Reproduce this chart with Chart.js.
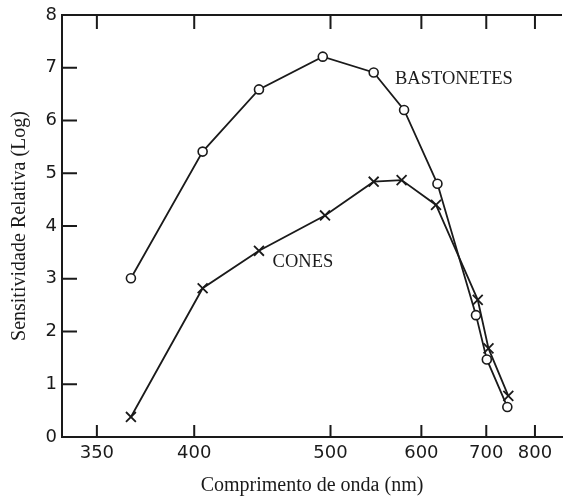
<!DOCTYPE html>
<html lang="pt">
  <head>
    <meta charset="UTF-8" />
    <title>Sensitividade relativa</title>
    <script src="https://cdn.jsdelivr.net/npm/chart.js"></script>
    <style>
      * {
        margin: 0;
        padding: 0;
      }
      body {
        background: #fff;
      }
    </style>
  </head>
  <body>
    <canvas id="chartsens" width="567" height="501"></canvas>

    <script>
      /*====  DADOS ============================ */
      var tickWavelengths = [350, 400, 500, 600, 700, 800];
      var yTicks = [0, 1, 2, 3, 4, 5, 6, 7, 8];

      // bastonetes (círculos)
      var rodWavelengths = [366, 405, 442, 493, 543, 578, 622, 682, 701, 740];
      var rodValues = [3.01, 5.41, 6.59, 7.21, 6.91, 6.2, 4.8, 2.31, 1.47, 0.57];

      // cones (cruzes)
      var coneWavelengths = [366, 405, 442, 495, 543, 575, 620, 685, 704, 742];
      var coneValues = [0.38, 2.82, 3.53, 4.2, 4.84, 4.87, 4.4, 2.6, 1.68, 0.78];

      var ink = '#1a1a1a';

      // o eixo x é recíproco (proporcional a 1/λ)
      function toAxis(w) {
        return -10000 / w;
      }
      function toPoints(ws, vs) {
        return ws.map(function (w, i) {
          return { x: toAxis(w), y: vs[i] };
        });
      }

      /*====  TICKS INTERNOS E RÓTULOS ============================ */
      var innerTicks = {
        id: 'innerTicks',
        afterDraw: function (chart) {
          var ctx = chart.ctx;
          var a = chart.chartArea;
          var x = chart.scales.x;
          var y = chart.scales.y;
          ctx.save();
          ctx.strokeStyle = ink;
          ctx.lineWidth = 2;
          ctx.beginPath();
          ctx.moveTo(a.left, a.top);
          ctx.lineTo(a.right, a.top);
          y.ticks.forEach(function (t) {
            if (t.value <= 0) return;
            var py = y.getPixelForValue(t.value);
            ctx.moveTo(a.left, py);
            ctx.lineTo(a.left + 15, py);
          });
          x.ticks.forEach(function (t) {
            var px = x.getPixelForValue(t.value);
            ctx.moveTo(px, a.bottom);
            ctx.lineTo(px, a.bottom - 12);
            ctx.moveTo(px, a.top);
            ctx.lineTo(px, a.top + 14);
          });
          ctx.stroke();

          ctx.fillStyle = ink;
          ctx.font = '18.5px "Liberation Serif"';
          ctx.textBaseline = 'middle';
          ctx.fillText('BASTONETES', x.getPixelForValue(toAxis(567)), y.getPixelForValue(6.79));
          ctx.fillText('CONES', x.getPixelForValue(toAxis(452)), y.getPixelForValue(3.32));
          ctx.restore();
        }
      };

      /*====  GRAFICO ============================ */
      var ctx = document.getElementById('chartsens').getContext('2d');
      var myChart = new Chart(ctx, {
        type: 'line',
        data: {
          datasets: [
            {
              label: 'BASTONETES',
              data: toPoints(rodWavelengths, rodValues),
              borderColor: ink,
              borderWidth: 1.8,
              pointStyle: 'circle',
              pointRadius: 4.5,
              pointBorderWidth: 1.6,
              pointBackgroundColor: '#fff',
              pointBorderColor: ink,
              tension: 0
            },
            {
              label: 'CONES',
              data: toPoints(coneWavelengths, coneValues),
              borderColor: ink,
              borderWidth: 1.8,
              pointStyle: 'crossRot',
              pointRadius: 7,
              pointBorderWidth: 1.8,
              pointBorderColor: ink,
              tension: 0
            }
          ]
        },
        options: {
          responsive: false,
          animation: false,
          layout: { autoPadding: false, padding: { top: 15, right: 5, left: 0, bottom: 0 } },
          plugins: {
            legend: { display: false },
            tooltip: { enabled: false }
          },
          scales: {
            x: {
              type: 'linear',
              min: toAxis(335),
              max: toAxis(869),
              afterBuildTicks: function (scale) {
                scale.ticks = tickWavelengths.map(function (w) {
                  return { value: toAxis(w) };
                });
              },
              afterFit: function (scale) {
                scale.height = 64;
                scale.paddingLeft = 0;
                scale.paddingRight = 0;
              },
              grid: { display: false, drawTicks: false },
              border: { display: true, color: ink, width: 2 },
              ticks: {
                padding: 6,
                color: ink,
                maxRotation: 0,
                font: { family: '"DejaVu Sans"', size: 18 },
                callback: function (v) {
                  return Math.round(-10000 / v);
                }
              },
              title: {
                display: true,
                text: 'Comprimento de onda (nm)',
                color: ink,
                font: { family: '"Liberation Serif"', size: 20 },
                padding: { top: 0, bottom: 3 }
              }
            },
            y: {
              min: 0,
              max: 8,
              afterBuildTicks: function (scale) {
                scale.ticks = yTicks.map(function (v) {
                  return { value: v };
                });
              },
              afterFit: function (scale) {
                scale.width = 62;
                scale.paddingTop = 0;
                scale.paddingBottom = 0;
              },
              grid: { display: false, drawTicks: false },
              border: { display: true, color: ink, width: 2 },
              ticks: {
                padding: 5,
                color: ink,
                font: { family: '"DejaVu Sans"', size: 18 }
              },
              title: {
                display: true,
                text: 'Sensitividade Relativa (Log)',
                color: ink,
                font: { family: '"Liberation Serif"', size: 20 },
                padding: { top: 8, bottom: 0 }
              }
            }
          }
        },
        plugins: [innerTicks]
      });
    </script>
  </body>
</html>
